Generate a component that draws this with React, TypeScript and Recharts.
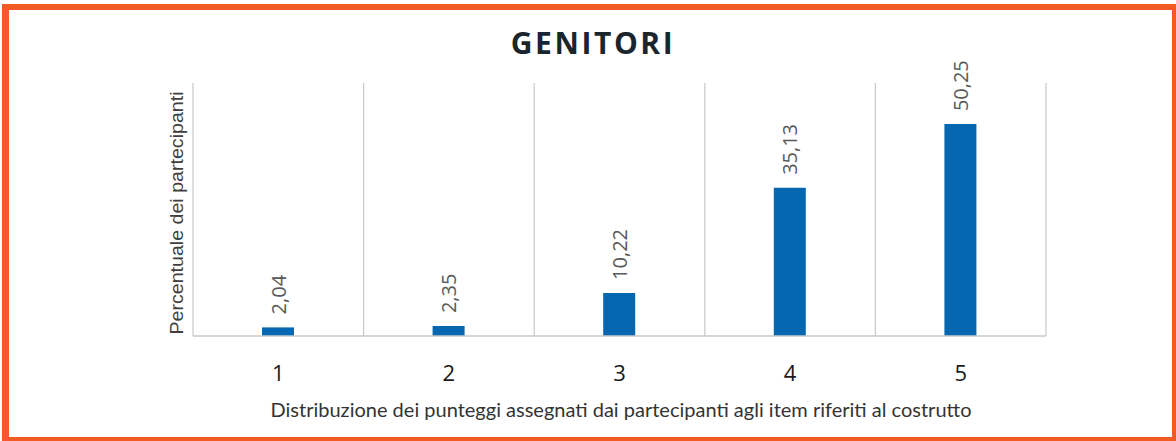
import { BarChart, Bar, XAxis, YAxis, ReferenceLine, LabelList } from "recharts";

// punteggi 1..5 and share of participants (%)
const scores = [1, 2, 3, 4, 5];
const percent = [2.04, 2.35, 10.22, 35.13, 50.25];
// category boundaries used for the vertical separators
const boundaries = [0.5, 1.5, 2.5, 3.5, 4.5, 5.5];

const data = scores.map((s, i) => ({ score: s, value: percent[i] }));

const W = 1176;
const H = 441;
const GRID = "#c9c9c9";
const BLUE = "#0467b0";

const fmt = (v: number) => v.toFixed(2).replace(".", ",");

const ScoreTick = (props: any) => {
  const { x, y, payload } = props;
  return (
    <text
      x={x}
      y={y + 45}
      textAnchor="middle"
      fontFamily="'Open Sans', sans-serif"
      fontSize={22}
      fill="#1a1a1a"
    >
      {payload.value}
    </text>
  );
};

const ValueLabel = (props: any) => {
  const { x, y, width, value } = props;
  const cx = x + width / 2;
  const ty = y - 13;
  return (
    <text
      transform={`translate(${cx},${ty}) rotate(-90)`}
      dominantBaseline="central"
      textAnchor="start"
      fontFamily="'Open Sans', sans-serif"
      fontSize={20}
      fill="#595959"
    >
      {fmt(value)}
    </text>
  );
};

export default function App() {
  return (
    <div style={{ position: "absolute", left: 0, top: 0, width: W, height: H, background: "#fff", overflow: "hidden" }}>
      {/* orange frame */}
      <div
        style={{
          position: "absolute",
          left: 2,
          top: 4,
          width: W - 2,
          height: H - 4,
          boxSizing: "border-box",
          borderStyle: "solid",
          borderColor: "#f15a22",
          borderWidth: "6px 4px 4px 7px",
        }}
      />
      <div style={{ position: "absolute", left: 0, top: 0 }}>
        <BarChart width={W} height={H} data={data} margin={{ top: 83, right: 130, bottom: 75, left: 193 }}>
          <XAxis
            dataKey="score"
            type="number"
            domain={[0.5, 5.5]}
            ticks={scores}
            height={30}
            tickSize={0}
            tickMargin={0}
            tickLine={false}
            axisLine={{ stroke: GRID, strokeWidth: 1.5 }}
            tick={<ScoreTick />}
            allowDecimals
          />
          <YAxis hide domain={[0, 60]} />
          {boundaries.map((b) => (
            <ReferenceLine key={b} x={b} stroke={GRID} strokeWidth={1.2} ifOverflow="visible" />
          ))}
          <Bar dataKey="value" fill={BLUE} barSize={32} isAnimationActive={false}>
            <LabelList dataKey="value" content={<ValueLabel />} />
          </Bar>
        </BarChart>
      </div>
      <svg width={W} height={H} style={{ position: "absolute", left: 0, top: 0, pointerEvents: "none" }}>
        <text
          x={593}
          y={53.5}
          textAnchor="middle"
          fontFamily="'Open Sans', sans-serif"
          fontWeight={700}
          fontSize={30}
          letterSpacing={2.6}
          fill="#1b252e"
        >
          GENITORI
        </text>
        <text
          transform="translate(183,213) rotate(-90)"
          textAnchor="middle"
          fontFamily="'Liberation Sans', Arial, sans-serif"
          fontSize={18}
          fill="#404040"
          textLength={243}
          lengthAdjust="spacingAndGlyphs"
        >
          Percentuale dei partecipanti
        </text>
        <text
          x={621}
          y={417}
          textAnchor="middle"
          fontFamily="Lato, 'Open Sans', sans-serif"
          fontSize={19}
          fill="#333"
          textLength={701}
          lengthAdjust="spacingAndGlyphs"
        >
          Distribuzione dei punteggi assegnati dai partecipanti agli item riferiti al costrutto
        </text>
      </svg>
    </div>
  );
}
